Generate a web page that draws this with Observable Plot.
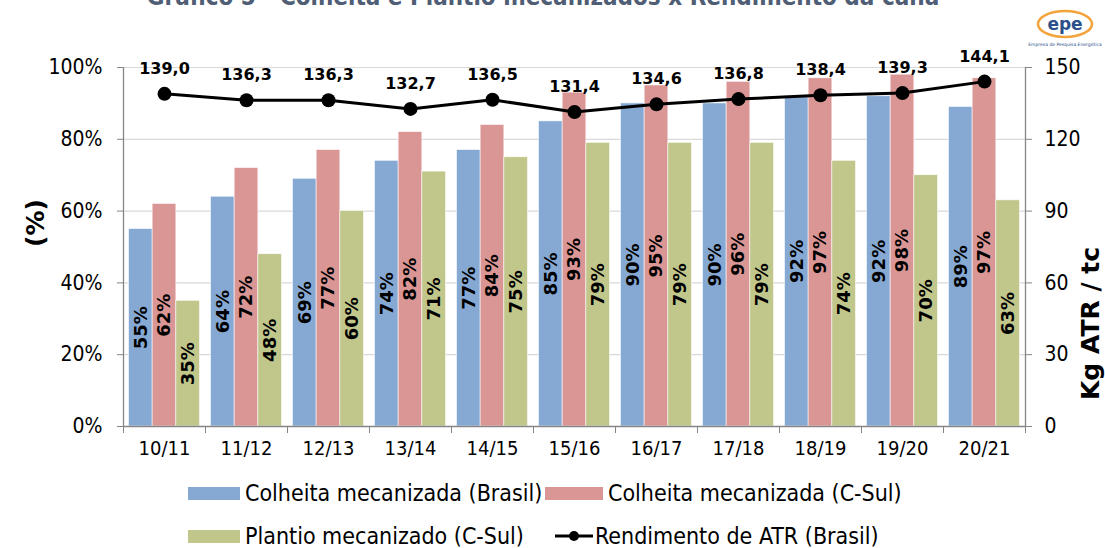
<!DOCTYPE html>
<html>
<head>
<meta charset="utf-8">
<script src="https://cdn.jsdelivr.net/npm/d3@7"></script>
<script src="https://cdn.jsdelivr.net/npm/@observablehq/plot@0.6"></script>
<style>
  html, body { margin: 0; padding: 0; background: #fff; }
  body { width: 1105px; height: 548px; position: relative; overflow: hidden; font-family: "DejaVu Sans Condensed", "DejaVu Sans", sans-serif; }
  #title { position: absolute; left: 0; width: 1086px; top: -15px; text-align: center; font-weight: bold; font-size: 24px; line-height: 24px; color: #4f5d75; white-space: nowrap; }
  #logo { position: absolute; left: 1028px; top: 9px; }
  #chart { position: absolute; left: 0; top: 0; }
  .legend { position: absolute; left: 0; top: 0; font-size: 23px; color: #000; white-space: nowrap; }
  .item { position: absolute; display: flex; align-items: center; height: 28px; }
  .sw { width: 52px; height: 13px; margin-right: 5px; }
</style>
</head>
<body>
<div id="title">Gráfico 5 - Colheita e Plantio mecanizados x Rendimento da cana</div>
<svg id="logo" width="74" height="42" viewBox="0 0 74 42">
  <ellipse cx="37" cy="15" rx="27" ry="13" fill="none" stroke="#f2a33a" stroke-width="2.5"/>
  <text x="37" y="21" text-anchor="middle" font-family="DejaVu Sans" font-weight="bold" font-size="17" fill="#2b4f8a">epe</text>
  <text x="37" y="37" text-anchor="middle" font-family="DejaVu Sans" font-size="4.5" fill="#2b4f8a">Empresa de Pesquisa Energética</text>
</svg>
<div id="chart"></div>
<div class="legend" id="legend"></div>
<script>
// ---- data ----
const seasons = ["10/11","11/12","12/13","13/14","14/15","15/16","16/17","17/18","18/19","19/20","20/21"];
const colheitaBrasil = [55, 64, 69, 74, 77, 85, 90, 90, 92, 92, 89];
const colheitaCSul   = [62, 72, 77, 82, 84, 93, 95, 96, 97, 98, 97];
const plantioCSul    = [35, 48, 60, 71, 75, 79, 79, 79, 74, 70, 63];
const rendimentoATR  = [139.0, 136.3, 136.3, 132.7, 136.5, 131.4, 134.6, 136.8, 138.4, 139.3, 144.1];
const seriesNames = ["Colheita mecanizada (Brasil)", "Colheita mecanizada (C-Sul)", "Plantio mecanizado (C-Sul)"];
const lineName = "Rendimento de ATR (Brasil)";
const seriesColors = ["#86a9d3", "#da9694", "#c1c68b"];
const leftTicks = [0, 20, 40, 60, 80, 100];
const atrMax = 150;

// ---- build table ----
const groupWidth = 0.866, barW = groupWidth / 3;
const seriesValues = [colheitaBrasil, colheitaCSul, plantioCSul];
const bars = [];
seriesValues.forEach((vals, k) => vals.forEach((v, i) => {
  const x1 = i - groupWidth / 2 + k * barW;
  bars.push({i, k, series: seriesNames[k], value: v, x1, x2: x1 + barW, xc: x1 + barW / 2});
}));
const line = rendimentoATR.map((v, i) => ({i, v, y: v / atrMax * 100}));
const fmtComma = v => v.toFixed(1).replace(".", ",");

const fontAxis = "DejaVu Sans Condensed, DejaVu Sans, sans-serif";
const fontBold = "DejaVu Sans, sans-serif";
const grey = "#868686";

const plot = Plot.plot({
  width: 1105,
  height: 466,
  marginLeft: 123,
  marginRight: 80,
  marginTop: 67,
  marginBottom: 40,
  style: {fontFamily: fontAxis, fontSize: "21px", background: "transparent", overflow: "visible"},
  x: {type: "linear", domain: [-0.5, seasons.length - 0.5]},
  y: {domain: [0, 100]},
  color: {domain: seriesNames, range: seriesColors},
  marks: [
    Plot.gridY({ticks: leftTicks.slice(1), stroke: "#d9d9d9", strokeOpacity: 1, strokeWidth: 1.2}),
    Plot.rectY(bars, {x1: "x1", x2: "x2", y1: 0, y2: "value", fill: "series", stroke: "#ffffff", strokeWidth: 0.8, strokeOpacity: 0.7}),
    Plot.text(bars, {x: "xc", y: d => d.value / 2, text: d => d.value + "%", rotate: -90, fontWeight: "bold", fontSize: 18, fontFamily: fontBold, fill: "#000"}),
    Plot.ruleX([-0.5], {stroke: grey, strokeWidth: 1.3}),
    Plot.ruleX([seasons.length - 0.5], {stroke: grey, strokeWidth: 1.3}),
    Plot.ruleY([0], {stroke: grey, strokeWidth: 1.3}),
    Plot.axisY({anchor: "left", ticks: leftTicks, tickFormat: d => d + "%", tickSize: 6, tickPadding: 15, stroke: grey, fill: "#000", label: null, fontSize: 21}),
    Plot.axisY({anchor: "right", ticks: leftTicks, tickFormat: d => String(Math.round(d / 100 * atrMax)), tickSize: 6, tickPadding: 13, stroke: grey, fill: "#000", label: null, fontSize: 21}),
    Plot.axisX({ticks: d3.range(-0.5, seasons.length, 1), tickFormat: () => "", tickSize: 7, stroke: grey, label: null}),
    Plot.axisX({ticks: d3.range(seasons.length), tickFormat: i => seasons[i], tickSize: 0, tickPadding: 14, fill: "#000", label: null, fontSize: 20}),
    Plot.line(line, {x: "i", y: "y", stroke: "#000", strokeWidth: 3}),
    Plot.dot(line, {x: "i", y: "y", r: 7, fill: "#000", stroke: "none"}),
    Plot.text(line, {x: "i", y: "y", text: d => fmtComma(d.v), dy: -20, lineAnchor: "bottom", fontWeight: "bold", fontSize: 16, fontFamily: fontBold, fill: "#000"}),
    Plot.text(["(%)"], {frameAnchor: "left", dx: -88, rotate: -90, fontWeight: "bold", fontSize: 25, fontFamily: fontBold, fill: "#000"}),
    Plot.text(["Kg ATR / tc"], {frameAnchor: "right", dx: 65, rotate: -90, fontWeight: "bold", fontSize: 25, fontFamily: fontBold, fill: "#000"})
  ]
});
document.getElementById("chart").appendChild(plot);

// ---- legend ----
const legend = document.getElementById("legend");
const items = [
  {label: seriesNames[0], color: seriesColors[0], left: 188, top: 479},
  {label: seriesNames[1], color: seriesColors[1], left: 545, top: 479},
  {label: seriesNames[2], color: seriesColors[2], left: 188, top: 522},
  {label: lineName, line: true, left: 555, top: 522}
];
items.forEach(it => {
  const el = document.createElement("div");
  el.className = "item";
  el.style.left = it.left + "px";
  el.style.top = it.top + "px";
  if (it.line) {
    el.innerHTML = '<svg width="38" height="14" style="margin-right:2px"><line x1="0" y1="7" x2="38" y2="7" stroke="#000" stroke-width="3"/><circle cx="19" cy="7" r="5" fill="#000"/></svg>';
  } else {
    el.innerHTML = '<span class="sw" style="background:' + it.color + (it.left > 300 ? ';width:58px' : '') + '"></span>';
  }
  const t = document.createElement("span");
  t.textContent = it.label;
  el.appendChild(t);
  legend.appendChild(el);
});
</script>
</body>
</html>
